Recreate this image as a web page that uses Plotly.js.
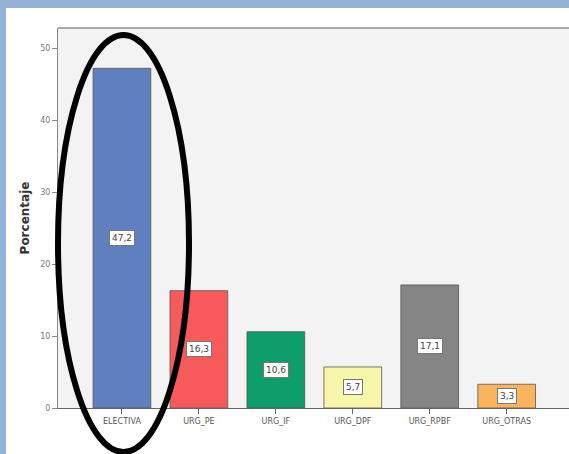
<!DOCTYPE html>
<html><head><meta charset="utf-8">
<script src="https://cdn.plot.ly/plotly-3.0.1.min.js"></script>
<style>
html,body{margin:0;padding:0;background:#95b3d7;width:569px;height:454px;overflow:hidden}
#chart{position:absolute;left:6px;top:8px;width:563px;height:446px;background:#fff}
</style></head>
<body><div id="chart"></div>
<script>
const categories = ["ELECTIVA","URG_PE","URG_IF","URG_DPF","URG_RPBF","URG_OTRAS"];
const values = [47.2, 16.3, 10.6, 5.7, 17.1, 3.3];
const labels = ["47,2","16,3","10,6","5,7","17,1","3,3"];
const colors = ["#5f7fbf","#f85a5c","#0e9e6c","#f8f6a8","#858585","#fcb45c"];

const trace = {
  type: "bar", x: categories, y: values,
  marker: {color: colors, line: {color: "#555", width: 0.8}},
  width: 0.75, hoverinfo: "none"
};
const annotations = categories.map((c, i) => ({
  x: c, y: values[i] / 2, xref: "x", yref: "y", text: labels[i], showarrow: false,
  bgcolor: "#ffffff", bordercolor: "#777", borderwidth: 1, borderpad: 2,
  font: {family: "DejaVu Sans", size: 9, color: "#444"}
}));
const layout = {
  width: 563, height: 446,
  margin: {l: 52, r: 0, t: 20, b: 46},
  paper_bgcolor: "#ffffff", plot_bgcolor: "#f3f3f3",
  showlegend: false,
  xaxis: {
    range: [-0.831, 5.81], showgrid: false, zeroline: false,
    showline: true, linecolor: "#666", linewidth: 1,
    ticks: "outside", ticklen: 5, tickcolor: "#666",
    tickfont: {family: "DejaVu Sans", size: 8, color: "#555"}
  },
  yaxis: {
    range: [0, 52.8], tickvals: [0,10,20,30,40,50], showgrid: false, zeroline: false,
    showline: true, linecolor: "#888", linewidth: 1, mirror: false,
    ticks: "outside", ticklen: 5, tickcolor: "#888",
    tickfont: {family: "DejaVu Sans", size: 8, color: "#777"},
    title: {text: "<b>Porcentaje</b>", font: {family: "DejaVu Sans", size: 12, color: "#333"}, standoff: 8}
  },
  annotations: annotations,
  shapes: [
    {type: "line", xref: "paper", yref: "paper", x0: 0, x1: 1, y0: 1, y1: 1,
     line: {color: "#aaa", width: 2}},
    {type: "circle", xref: "paper", yref: "paper",
     x0: (58-58)/511, x1: (189-58)/511, y0: (408-452)/380, y1: (408-35)/380,
     line: {color: "#000", width: 6}}
  ]
};
Plotly.newPlot("chart", [trace], layout, {displayModeBar: false, staticPlot: true});
</script></body></html>
